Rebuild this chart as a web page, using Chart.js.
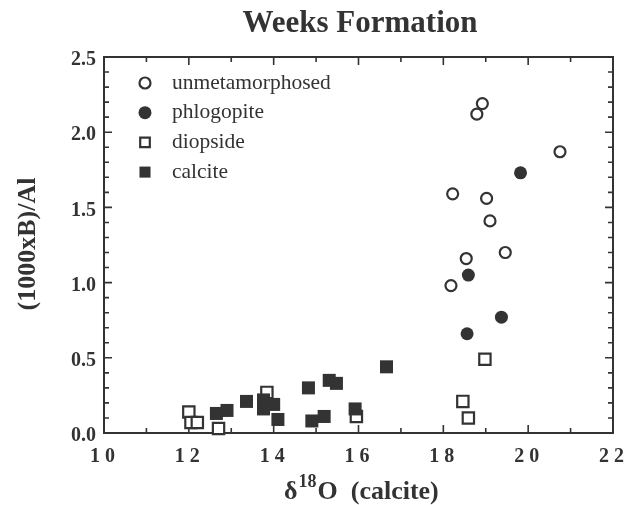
<!DOCTYPE html>
<html>
<head>
<meta charset="utf-8">
<script src="https://cdn.jsdelivr.net/npm/chart.js@4.4.1/dist/chart.umd.min.js"></script>
<style>
  body { margin: 0; background: #fff; }
  #wrap { width: 635px; height: 505px; position: relative; }
</style>
</head>
<body>
<div id="wrap"><canvas id="scatter"></canvas></div>
<script>
// values: d18O (calcite) vs (1000xB)/Al
const unmetX = [18.92, 18.79, 20.75, 18.22, 19.02, 19.10, 19.46, 18.54, 18.18];
const unmetY = [2.19, 2.12, 1.87, 1.59, 1.56, 1.41, 1.20, 1.16, 0.98];
const phlogX = [19.82, 18.59, 19.37, 18.56];
const phlogY = [1.73, 1.05, 0.77, 0.66];
const diopX = [12.0, 12.05, 12.2, 12.7, 13.84, 15.95, 18.98, 18.46, 18.59];
const diopY = [0.14, 0.07, 0.07, 0.03, 0.27, 0.11, 0.49, 0.21, 0.10];
const calcX = [12.65, 12.9, 13.36, 13.76, 13.76, 14.0, 14.1, 14.82, 14.9, 15.19, 15.31, 15.48, 15.92, 16.66];
const calcY = [0.13, 0.15, 0.21, 0.22, 0.16, 0.19, 0.09, 0.30, 0.08, 0.11, 0.35, 0.33, 0.16, 0.44];

const xTicks = [10, 12, 14, 16, 18, 20, 22];
const yTicks = [0.0, 0.5, 1.0, 1.5, 2.0, 2.5];

const INK = '#333';
const SERIF = '"Liberation Serif", "Times New Roman", serif';

const pts = (xs, ys) => xs.map((x, i) => ({ x: x, y: ys[i] }));

const datasets = [
  { label: 'unmetamorphosed', data: pts(unmetX, unmetY), pointStyle: 'circle', pointRadius: 5.5,
    backgroundColor: '#fff', borderColor: INK, borderWidth: 2.2 },
  { label: 'phlogopite', data: pts(phlogX, phlogY), pointStyle: 'circle', pointRadius: 6.5,
    backgroundColor: INK, borderColor: INK, borderWidth: 0 },
  { label: 'calcite', data: pts(calcX, calcY), pointStyle: 'rect', pointRadius: 9.2,
    backgroundColor: INK, borderColor: INK, borderWidth: 0 },
  { label: 'diopside', data: pts(diopX, diopY), pointStyle: 'rect', pointRadius: 8,
    backgroundColor: '#fff', borderColor: INK, borderWidth: 2.2 }
];
datasets.forEach((d) => { d.clip = false; d.pointHoverRadius = d.pointRadius; });

const legendOrder = ['unmetamorphosed', 'phlogopite', 'diopside', 'calcite'];

const frame = {
  id: 'frame',
  beforeDatasetsDraw(chart) {
    const { ctx, chartArea: a, scales: { x, y } } = chart;
    ctx.save();
    ctx.strokeStyle = INK;
    ctx.lineWidth = 2;
    ctx.strokeRect(a.left, a.top, a.right - a.left, a.bottom - a.top);
    ctx.lineWidth = 1.6;
    ctx.beginPath();
    for (let v = 10; v <= 22; v += 1) {
      const px = x.getPixelForValue(v);
      const len = v % 2 === 0 ? 8 : 5;
      ctx.moveTo(px, a.bottom); ctx.lineTo(px, a.bottom - len);
      ctx.moveTo(px, a.top); ctx.lineTo(px, a.top + len);
    }
    for (let i = 0; i <= 25; i++) {
      const py = y.getPixelForValue(i / 10);
      const len = i % 5 === 0 ? 8 : 5;
      ctx.moveTo(a.left, py); ctx.lineTo(a.left + len, py);
      ctx.moveTo(a.right, py); ctx.lineTo(a.right - len, py);
    }
    ctx.stroke();
    ctx.restore();
  },
  afterDraw(chart) {
    const { ctx, chartArea: a, scales: { x, y } } = chart;
    ctx.save();
    ctx.fillStyle = INK;

    // title
    ctx.font = 'bold 31px ' + SERIF;
    ctx.textAlign = 'center';
    ctx.textBaseline = 'alphabetic';
    ctx.fillText('Weeks Formation', 360, 32);

    // y tick labels
    ctx.font = 'bold 20px ' + SERIF;
    ctx.textAlign = 'right';
    ctx.textBaseline = 'middle';
    yTicks.forEach((v) => ctx.fillText(v.toFixed(1), a.left - 8, y.getPixelForValue(v) + 3));

    // x tick labels, spaced out like the original
    ctx.font = 'bold 20px ' + SERIF;
    ctx.textAlign = 'center';
    ctx.textBaseline = 'top';
    ctx.letterSpacing = '5px';
    xTicks.forEach((v) => ctx.fillText(String(v), x.getPixelForValue(v) + 1, a.bottom + 14));
    ctx.letterSpacing = '0px';

    // x title: delta 18 O (calcite)
    ctx.textAlign = 'left';
    ctx.textBaseline = 'alphabetic';
    let cx = 284;
    const by = 499;
    ctx.font = 'bold 26px ' + SERIF;
    ctx.fillText('\u03b4', cx, by);
    cx += ctx.measureText('\u03b4').width + 1;
    ctx.font = 'bold 18px ' + SERIF;
    ctx.fillText('18', cx, by - 12);
    cx += ctx.measureText('18').width + 1;
    ctx.font = 'bold 26px ' + SERIF;
    ctx.fillText('O  (calcite)', cx, by);

    // y title
    ctx.translate(28, 244);
    ctx.rotate(-Math.PI / 2);
    ctx.textAlign = 'center';
    ctx.textBaseline = 'middle';
    ctx.font = 'bold 26px ' + SERIF;
    ctx.fillText('(1000xB)/Al', 0, 0);
    ctx.restore();

    // legend inside the plot
    ctx.save();
    ctx.font = '21.5px ' + SERIF;
    ctx.textAlign = 'left';
    ctx.textBaseline = 'middle';
    legendOrder.forEach((name, i) => {
      const ds = chart.data.datasets.find((d) => d.label === name);
      const ly = 83 + i * 29.7;
      ctx.fillStyle = ds.backgroundColor;
      ctx.strokeStyle = ds.borderColor;
      ctx.lineWidth = ds.borderWidth;
      const r = ds.pointStyle === 'rect' ? ds.pointRadius * 0.85 : ds.pointRadius;
      Chart.helpers.drawPoint(ctx, { pointStyle: ds.pointStyle, radius: r, borderWidth: ds.borderWidth }, 145, ly);
      ctx.fillStyle = INK;
      ctx.fillText(name, 172, ly);
    });
    ctx.restore();
  }
};

new Chart(document.getElementById('scatter'), {
  type: 'scatter',
  data: { datasets: datasets },
  options: {
    responsive: true,
    maintainAspectRatio: false,
    animation: false,
    events: [],
    layout: { padding: { left: 104, right: 22, top: 57, bottom: 72 } },
    plugins: { legend: { display: false }, tooltip: { enabled: false } },
    scales: {
      x: { type: 'linear', min: 10, max: 22, display: false },
      y: { type: 'linear', min: 0, max: 2.5, display: false }
    }
  },
  plugins: [frame]
});
</script>
</body>
</html>
